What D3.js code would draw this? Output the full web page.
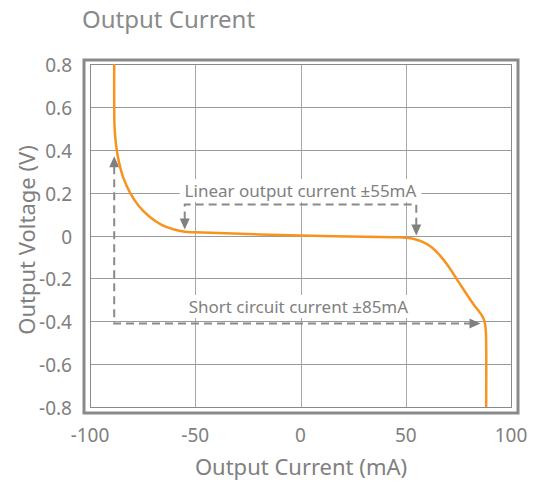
<!DOCTYPE html>
<head>
  <meta charset="utf-8">
  <script src="https://cdn.jsdelivr.net/npm/d3@7"></script>
  <style>
    body { margin:0; background:#fff; }
    text { font-family: "Noto Sans", "Open Sans", sans-serif; fill: #808080; }
  </style>
</head>
<body>
  <script>
    // curve (mA, V)
    var currentMA = [-88.5, -88.5, -88.3, -87.6, -86.2, -84.2, -81, -77, -72, -66, -60, -55, -50, 0, 45, 50, 54, 58, 62, 66, 70, 74, 78, 82, 84.5, 86.3, 87.4, 88, 88.2, 88.2];
    var voltageV  = [0.8, 0.6, 0.5, 0.42, 0.34, 0.27, 0.2, 0.14, 0.09, 0.05, 0.028, 0.018, 0.015, 0, -0.008, -0.01, -0.016, -0.03, -0.052, -0.09, -0.14, -0.2, -0.26, -0.318, -0.35, -0.375, -0.4, -0.44, -0.5, -0.8];

    var xTicks = [-100, -50, 0, 50, 100];
    var yTicks = [0.8, 0.6, 0.4, 0.2, 0, -0.2, -0.4, -0.6, -0.8];

    // annotations
    var linearLimit = [-55, 55];
    var linearLevel = 0.145;
    var linearTips = [0.028, 0.0];
    var linearLabel = "Linear output current \u00b155mA";
    var shortX = [-88.5, 85.5];
    var shortLevel = -0.41;
    var shortTip = 0.37;
    var shortLabel = "Short circuit current \u00b185mA";

    var width = 534, height = 483;
    var svg = d3.select("body").append("svg")
      .attr("width", width).attr("height", height);

    var x = d3.scaleLinear().domain([-100, 100]).range([90, 511]);
    var y = d3.scaleLinear().domain([-0.8, 0.8]).range([407, 64]);

    // title
    svg.append("text").attr("x", 82).attr("y", 28)
      .style("font-size", "24px").style("fill", "#8a8a8a")
      .text("Output Current");

    // outer frame
    svg.append("rect").attr("x", 84).attr("y", 60)
      .attr("width", 434).attr("height", 353)
      .attr("fill", "none").attr("stroke", "#8a8a8a").attr("stroke-width", 3);

    // grid
    var g = svg.append("g");
    g.selectAll("line.v").data(xTicks.slice(1, -1)).enter().append("line")
      .attr("x1", d => Math.round(x(d)) + 0.5).attr("x2", d => Math.round(x(d)) + 0.5)
      .attr("y1", y(0.8)).attr("y2", y(-0.8))
      .attr("stroke", "#a8a8a8").attr("stroke-width", 1);
    g.selectAll("line.h").data(yTicks.slice(1, -1)).enter().append("line")
      .attr("x1", x(-100)).attr("x2", x(100))
      .attr("y1", d => Math.round(y(d)) + 0.5).attr("y2", d => Math.round(y(d)) + 0.5)
      .attr("stroke", "#9a9a9a").attr("stroke-width", 1);

    // inner frame
    svg.append("rect").attr("x", x(-100) + 0.5).attr("y", y(0.8) + 0.5)
      .attr("width", x(100) - x(-100)).attr("height", y(-0.8) - y(0.8))
      .attr("fill", "none").attr("stroke", "#8a8a8a").attr("stroke-width", 1);

    // tick labels
    svg.selectAll("text.yt").data(yTicks).enter().append("text")
      .attr("x", 72).attr("y", d => y(d) + 3)
      .attr("text-anchor", "end").attr("dominant-baseline", "middle")
      .style("font-size", "19px")
      .text(d => String(d));
    svg.selectAll("text.xt").data(xTicks).enter().append("text")
      .attr("x", d => x(d)).attr("y", 442)
      .attr("text-anchor", "middle")
      .style("font-size", "19px")
      .text(d => String(d));

    // axis titles
    svg.append("text").attr("x", 301).attr("y", 475)
      .attr("text-anchor", "middle").style("font-size", "22px")
      .text("Output Current (mA)");
    svg.append("text").attr("transform", "translate(35,240) rotate(-90)")
      .attr("text-anchor", "middle").style("font-size", "22px")
      .text("Output Voltage (V)");

    // annotation helpers
    var dash = { color: "#8a8a8a", w: 2, da: "8,5" };
    function dashed(pts) {
      svg.append("path").attr("d", d3.line()(pts))
        .attr("fill", "none").attr("stroke", dash.color)
        .attr("stroke-width", dash.w).attr("stroke-dasharray", dash.da);
    }
    function arrowHead(tx, ty, dir) {
      // dir: "down", "up", "right"
      var L = 11, W = 5, p;
      if (dir === "down") p = [[tx, ty], [tx - W, ty - L], [tx + W, ty - L]];
      if (dir === "up") p = [[tx, ty], [tx - W, ty + L], [tx + W, ty + L]];
      if (dir === "right") p = [[tx, ty], [tx - L, ty - W], [tx - L, ty + W]];
      svg.append("path").attr("d", d3.line()(p) + "Z").attr("fill", "#808080");
    }
    function label(txt, cx, cy) {
      var t = svg.append("text").attr("x", cx).attr("y", cy)
        .attr("text-anchor", "middle").style("font-size", "17px").text(txt);
      var b = t.node().getBBox();
      svg.insert("rect", function () { return t.node(); })
        .attr("x", b.x - 5).attr("y", b.y).attr("width", b.width + 10).attr("height", b.height)
        .attr("fill", "#fff");
    }

    // linear range bracket
    dashed([[x(linearLimit[0]), y(linearTips[0]) - 10], [x(linearLimit[0]), y(linearLevel)],
            [x(linearLimit[1]), y(linearLevel)], [x(linearLimit[1]), y(linearTips[1]) - 10]]);
    arrowHead(x(linearLimit[0]), y(linearTips[0]), "down");
    arrowHead(x(linearLimit[1]), y(linearTips[1]), "down");
    label(linearLabel, x(0), 197);

    // short circuit bracket
    dashed([[x(shortX[0]), y(shortTip) + 10], [x(shortX[0]), y(shortLevel)],
            [x(shortX[1]) - 10, y(shortLevel)]]);
    arrowHead(x(shortX[0]), y(shortTip), "up");
    arrowHead(x(shortX[1]), y(shortLevel), "right");
    label(shortLabel, x(-1), 313);

    // curve
    var pts = currentMA.map((c, i) => [c, voltageV[i]]);
    svg.append("path").datum(pts)
      .attr("d", d3.line().x(d => x(d[0])).y(d => y(d[1])).curve(d3.curveCatmullRom.alpha(0.5)))
      .attr("fill", "none").attr("stroke", "#f7931e").attr("stroke-width", 2.5);
  </script>
</body>
